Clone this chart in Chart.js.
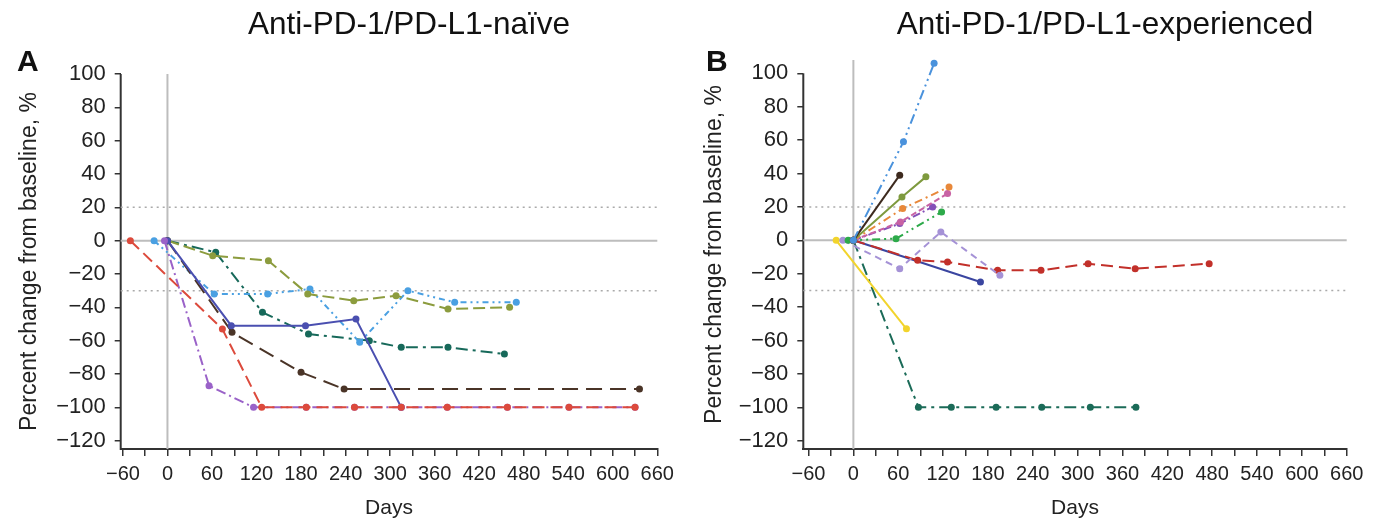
<!DOCTYPE html>
<html>
<head>
<meta charset="utf-8">
<script src="https://cdn.jsdelivr.net/npm/chart.js@4.4.0/dist/chart.umd.min.js"></script>
<style>
body{margin:0;background:#fff;width:1386px;height:523px;position:relative;overflow:hidden;font-family:"Liberation Sans",Arial,sans-serif;color:#111}
canvas{position:absolute;top:0}
.ttl{position:absolute;font-size:31.5px;line-height:30px;white-space:nowrap;transform:translateX(-50%)}
.lbl{position:absolute;font-size:30px;line-height:30px;font-weight:bold}
</style>
</head>
<body>
<canvas id="chartA" width="693" height="523" style="left:0"></canvas>
<canvas id="chartB" width="693" height="523" style="left:693px"></canvas>
<div class="ttl" style="left:409px;top:8px">Anti-PD-1/PD-L1-naïve</div>
<div class="ttl" style="left:1105px;top:8px">Anti-PD-1/PD-L1-experienced</div>
<div class="lbl" style="left:17px;top:46px">A</div>
<div class="lbl" style="left:706px;top:46px">B</div>
<script>
// tick marks (labels every 60 days)
const xTickMarks = [-60,-30,0,30,60,90,120,150,180,210,240,270,300,330,360,390,420,450,480,510,540,570,600,630,660];
const yTickMarks = [-120,-100,-80,-60,-40,-20,0,20,40,60,80,100];

// Panel A: anti-PD-1/PD-L1-naive
const aRedDays = [-50,74,127,187,252,315,377,458,541,630];
const aRedPct = [0,-53,-100,-100,-100,-100,-100,-100,-100,-100];
const aPurpleDays = [-4,56,116,187,252,315,377,458,541,630];
const aPurplePct = [0,-87,-100,-100,-100,-100,-100,-100,-100,-100];
const aNavyDays = [0,86,186,254,315];
const aNavyPct = [0,-51,-51,-47,-100];
const aBrownDays = [0,87,180,238,636];
const aBrownPct = [0,-55,-79,-89,-89];
const aOliveDays = [0,61,136,189,251,308,378,461];
const aOlivePct = [0,-9,-12,-32,-36,-33,-41,-40];
const aSkyDays = [-18,63,135,192,259,324,387,470];
const aSkyPct = [0,-32,-32,-29,-61,-30,-37,-37];
const aTealDays = [0,65,128,190,272,315,378,454];
const aTealPct = [0,-7,-43,-56,-60,-64,-64,-68];

// Panel B: anti-PD-1/PD-L1-experienced
const bSkyDays = [0,67,108];
const bSkyPct = [0,59,106];
const bBrownDays = [0,62];
const bBrownPct = [0,39];
const bOliveDays = [0,65,97];
const bOlivePct = [0,26,38];
const bOrangeDays = [0,66,128];
const bOrangePct = [0,19,32];
const bPinkDays = [0,63,126];
const bPinkPct = [0,11,28];
const bPurpleDays = [0,62,106];
const bPurplePct = [0,10,20];
const bGreenDays = [-7,57,118];
const bGreenPct = [0,1,17];
const bLavenderDays = [-14,62,117,196];
const bLavenderPct = [0,-17,5,-21];
const bRedDays = [0,86,126,193,251,314,377,476];
const bRedPct = [0,-12,-13,-18,-18,-14,-17,-14];
const bNavyDays = [0,170];
const bNavyPct = [0,-25];
const bYellowDays = [-23,71];
const bYellowPct = [0,-53];
const bTealDays = [0,87,131,191,252,317,378];
const bTealPct = [0,-100,-100,-100,-100,-100,-100];

function pts(days, pct){
  return days.map((d,i)=>({x:d,y:pct[i]}));
}
function series(days, pct, color, dash){
  return {data:pts(days,pct),borderColor:color,backgroundColor:color,borderDash:dash,
    borderWidth:2,pointRadius:3.5,pointBorderWidth:0,pointHoverRadius:3.5,showLine:true,clip:false,order:1};
}
function refLines(xMin, vTop){
  return [
    {data:[{x:xMin,y:0},{x:660,y:0}],borderColor:'#bdbdbd',borderWidth:2,pointRadius:0,showLine:true,clip:false,order:10},
    {data:[{x:0,y:-125},{x:0,y:vTop}],borderColor:'#bdbdbd',borderWidth:2,pointRadius:0,showLine:true,clip:false,order:10},
    {data:[{x:xMin,y:20},{x:660,y:20}],borderColor:'#aaaaaa',borderWidth:1.5,borderDash:[2,4],pointRadius:0,showLine:true,clip:false,order:10},
    {data:[{x:xMin,y:-30},{x:660,y:-30}],borderColor:'#aaaaaa',borderWidth:1.5,borderDash:[2,4],pointRadius:0,showLine:true,clip:false,order:10}
  ];
}
const minus = v => String(v).replace('-', '\u2212');

// y axis line only from -125 up to 100, even when the plot area reaches higher
const yAxisLine = {
  id:'yAxisLine',
  beforeDatasetsDraw(chart){
    const y = chart.scales.y, ctx = chart.ctx;
    ctx.save();
    ctx.strokeStyle = '#333';
    ctx.lineWidth = 2;
    ctx.beginPath();
    ctx.moveTo(y.right, y.getPixelForValue(-125) + 1);
    ctx.lineTo(y.right, y.getPixelForValue(100));
    ctx.stroke();
    ctx.restore();
  }
};

function makeOptions(xMin, yMax, topPad, yWidth, rightPad, yTitlePad){
  return {
    responsive:false, animation:false, devicePixelRatio:1,
    layout:{padding:{left:0,top:topPad,right:rightPad,bottom:0}},
    plugins:{legend:{display:false},tooltip:{enabled:false}},
    scales:{
      x:{type:'linear',min:xMin,max:660,
        afterBuildTicks:s=>{s.ticks=xTickMarks.map(v=>({value:v}));},
        afterFit:s=>{s.height=74;s.paddingLeft=0;s.paddingRight=0;},
        grid:{drawOnChartArea:false,drawTicks:true,tickLength:7,color:'#333',lineWidth:1.5},
        border:{display:true,color:'#333',width:2},
        ticks:{autoSkip:false,maxRotation:0,padding:6,color:'#222',font:{family:'Liberation Sans',size:20},
          callback:v=>v%60===0?minus(v):''},
        title:{display:true,text:'Days',color:'#222',font:{family:'Liberation Sans',size:21},padding:{top:0,bottom:2}}
      },
      y:{type:'linear',min:-125,max:yMax,
        afterBuildTicks:s=>{s.ticks=yTickMarks.map(v=>({value:v}));},
        afterFit:s=>{s.width=yWidth;s.paddingTop=0;s.paddingBottom=0;},
        grid:{drawOnChartArea:false,drawTicks:true,tickLength:6,color:'#333',lineWidth:1.5},
        border:{display:false},
        ticks:{padding:9,color:'#222',font:{family:'Liberation Sans',size:22},callback:v=>minus(v)},
        title:{display:true,text:'Percent change from baseline, %',color:'#222',
          font:{family:'Liberation Sans',size:23},padding:{top:yTitlePad,bottom:0}}
      }
    }
  };
}

new Chart(document.getElementById('chartA'), {
  type:'scatter',
  data:{datasets:[
    series(aRedDays,aRedPct,'#dc4a3c',[12,6]),
    series(aPurpleDays,aPurplePct,'#9a62c8',[10,4,2,4]),
    series(aNavyDays,aNavyPct,'#4a4fb0',[]),
    series(aBrownDays,aBrownPct,'#4a3427',[16,8]),
    series(aOliveDays,aOlivePct,'#8c9c3e',[12,5]),
    series(aSkyDays,aSkyPct,'#4aa0e2',[6,4,2,4,2,4]),
    series(aTealDays,aTealPct,'#17695a',[12,5,3,5])
  ].concat(refLines(-63,100))},
  options:makeOptions(-63,100,74,120.7,35.7,16),
  plugins:[yAxisLine]
});

new Chart(document.getElementById('chartB'), {
  type:'scatter',
  data:{datasets:[
    series(bSkyDays,bSkyPct,'#4a92dc',[10,4,2,4,2,4]),
    series(bBrownDays,bBrownPct,'#3d2a1e',[]),
    series(bOliveDays,bOlivePct,'#7e9a3e',[]),
    series(bOrangeDays,bOrangePct,'#e8883a',[8,4,2,4]),
    series(bPinkDays,bPinkPct,'#c862a4',[6,3]),
    series(bPurpleDays,bPurplePct,'#8450b8',[8,3,2,3]),
    series(bGreenDays,bGreenPct,'#2daa4a',[8,4,2,4,2,4]),
    series(bLavenderDays,bLavenderPct,'#a592d6',[7,5]),
    series(bRedDays,bRedPct,'#c2302a',[12,6]),
    series(bNavyDays,bNavyPct,'#3a45a0',[]),
    series(bYellowDays,bYellowPct,'#f2d42c',[]),
    series(bTealDays,bTealPct,'#1b6b58',[12,5,3,5])
  ].concat(refLines(-67,108))},
  options:makeOptions(-67,108,60,110.3,39.3,8),
  plugins:[yAxisLine]
});
</script>
</body>
</html>
